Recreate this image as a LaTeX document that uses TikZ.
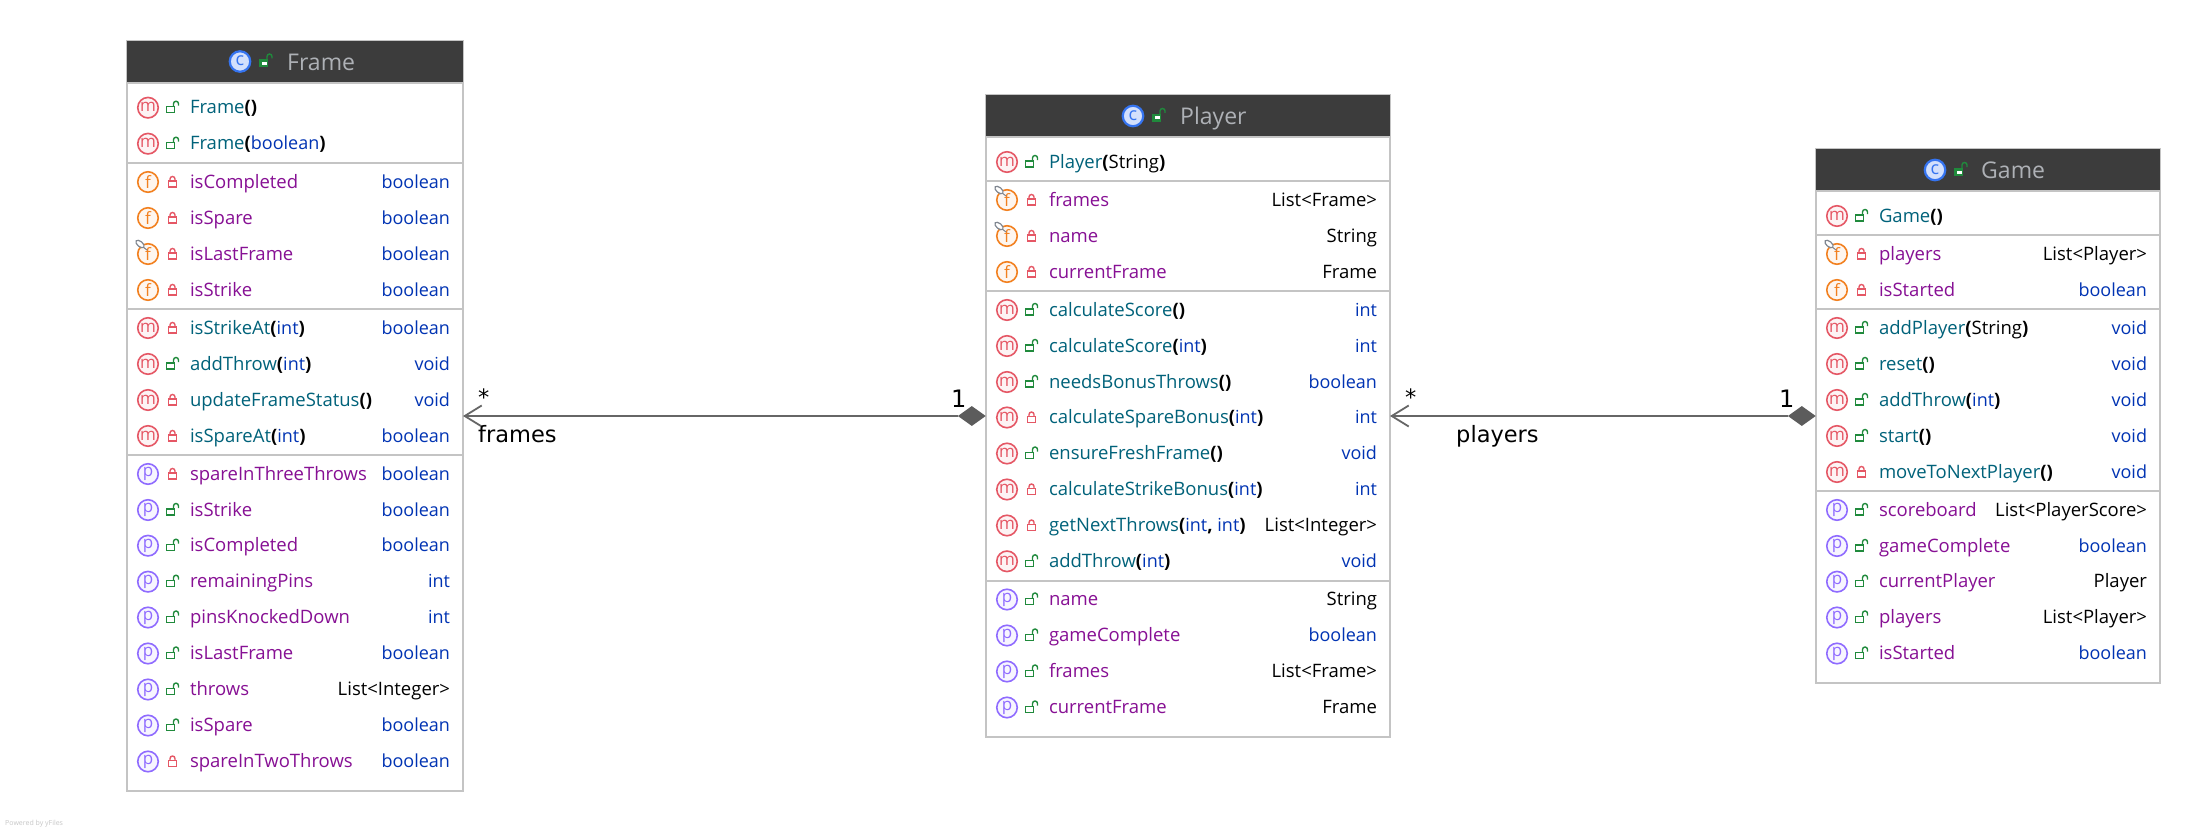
\documentclass[tikz,border=0pt]{standalone}
\usepackage{fontspec}
\setmainfont{Open Sans}
\newfontfamily\edgefont{DejaVu Sans}
\usetikzlibrary{arrows.meta,shapes.geometric}
\definecolor{hdr}{HTML}{3C3C3C}
\definecolor{hdrtxt}{HTML}{AEB1B6}
\definecolor{bord}{HTML}{C4C4C4}
\definecolor{nmteal}{HTML}{00627A}
\definecolor{nmpurple}{HTML}{871094}
\definecolor{tyblue}{HTML}{0033B3}
\definecolor{icm}{HTML}{E55765}
\definecolor{icf}{HTML}{F2801F}
\definecolor{icp}{HTML}{8F6BFF}
\definecolor{icc}{HTML}{3574F0}
\definecolor{lockg}{HTML}{208A3C}
\definecolor{lockr}{HTML}{E55765}
\definecolor{edgec}{HTML}{666666}
\definecolor{pinc}{HTML}{7F8690}
\newcounter{rowc}
\tikzset{
  classbox/.style={draw=bord,line width=2.5pt,fill=white,anchor=north west,inner sep=0pt,outer sep=0pt},
  headbox/.style={fill=hdr,anchor=north west,inner sep=0pt,outer sep=0pt},
  sepline/.style={draw=bord,line width=2.5pt},
  rowtext/.style={inner sep=0pt,outer sep=0pt,font=\fontsize{18.5}{22}\selectfont},
  title/.style={inner sep=0pt,anchor=base west,text=hdrtxt,font=\fontsize{23}{26}\selectfont},
  kicon/.style={circle,draw=#1,line width=1.6pt,fill=#1!7,text=#1,minimum size=20.5pt,inner sep=0pt,font=\fontsize{17}{17}\selectfont},
  cicon/.style={circle,draw=icc,line width=2.2pt,fill=icc!22,text=icc,minimum size=20.5pt,inner sep=0pt,font=\fontsize{18}{18}\selectfont},
  assoc/.style={draw=edgec,line width=2.4pt,-{Straight Barb[length=17pt,width=21pt,line width=1.8pt]}},
  compo/.style={diamond,fill=edgec!90!black,inner sep=0pt,minimum width=28pt,minimum height=20pt,aspect=1.4},
  edgelab/.style={inner sep=0pt,anchor=base west,text=black,font=\edgefont\fontsize{22.5}{24}\selectfont}
}
% locks
\newcommand{\lockpub}[2]{%
  \draw[lockg,line width=1.4pt,fill=white] (#1-6,#2-1) rectangle (#1+2,#2+5);
  \draw[lockg,line width=1.4pt] (#1+1,#2-1) -- (#1+1,#2-4) arc[start angle=180,end angle=360,radius=2.5] -- (#1+6,#2-2);}
\newcommand{\lockpri}[2]{%
  \draw[lockr,line width=1.4pt,fill=white] (#1-4,#2-1) rectangle (#1+4,#2+5);
  \draw[lockr,line width=1.4pt] (#1-2.5,#2-1) -- (#1-2.5,#2-3) arc[start angle=180,end angle=360,radius=2.5] -- (#1+2.5,#2-1);}
\newcommand{\lockhead}[2]{%
  \fill[lockg] (#1-7,#2-2) rectangle (#1+2,#2+6);
  \fill[white] (#1-4.5,#2+.5) rectangle (#1+.5,#2+3.5);
  \draw[lockg,line width=1.4pt] (#1+1,#2-2) -- (#1+1,#2-5) arc[start angle=180,end angle=360,radius=2.5] -- (#1+6,#2-3);}
\newcommand{\pinmark}[2]{%
  \draw[pinc,line width=1pt] (#1-5,#2-7) -- (#1-1,#2-4);
  \draw[pinc,line width=1.2pt,fill=white,rotate around={-40:(#1-8,#2-10)}] (#1-8,#2-10) ellipse[x radius=5,y radius=2.6];}
% #1 left x, #2 right x, #3 y, #4 colour, #5 letter, #6 lock macro, #7 name, #8 type
\newcommand{\urow}[8]{%
  \stepcounter{rowc}%
  \pgfmathsetmacro{\xa}{#1+21}\pgfmathsetmacro{\xb}{#1+45.5}\pgfmathsetmacro{\xc}{#1+63}\pgfmathsetmacro{\xd}{#2-13}\pgfmathsetmacro{\yb}{#3+6}%
  \node[kicon=#4,name=ic\arabic{rowc}] at (\xa,#3) {\raisebox{1pt}{#5}};
  #6{\xb}{#3}
  \node[rowtext,anchor=base west,name=nm\arabic{rowc}] at (\xc,\yb) {#7};
  \node[rowtext,anchor=base east,name=ty\arabic{rowc}] at (\xd,\yb) {#8};
}
\newcommand{\nm}[1]{\textcolor{nmteal}{#1}}
\newcommand{\fn}[1]{\textcolor{nmpurple}{#1}}
\newcommand{\ty}[1]{{\fontsize{18}{22}\selectfont\textcolor{tyblue}{#1}}}
\newcommand{\pb}[1]{\textbf{#1}}
\newcommand{\mrow}[6]{\urow{#1}{#2}{#3}{icm}{m}{#4}{#5}{#6}}
\newcommand{\frow}[6]{\urow{#1}{#2}{#3}{icf}{f}{#4}{#5}{#6}}
\newcommand{\prow}[6]{\urow{#1}{#2}{#3}{icp}{p}{#4}{#5}{#6}}
\begin{document}
\begin{tikzpicture}[x=1pt,y=-1pt]
\useasboundingbox (0,0) rectangle (2202,832);
\fill[white] (0,0) rectangle (2202,832);
% ---------- Frame
\def\L{127}\def\R{463}
\node[classbox,minimum width=336pt,minimum height=750pt] (frame) at (\L,41) {};
\node[headbox,minimum width=336pt,minimum height=41pt] (framehead) at (\L,41) {};
\draw[sepline] (\L,83) -- (\R,83);
\node[cicon] (frameC) at (240,61.5) {\raisebox{1pt}{c}};
\lockhead{266}{61.5}
\node[title] (frameT) at (287,70.5) {Frame};
\mrow{\L}{\R}{107.7}{\lockpub}{\nm{Frame}\pb{()}}{}
\mrow{\L}{\R}{143.7}{\lockpub}{\nm{Frame}\pb{(}\ty{boolean}\pb{)}}{}
\draw[sepline] (\L,163) -- (\R,163);
\frow{\L}{\R}{182}{\lockpri}{\fn{isCompleted}}{\ty{boolean}}
\frow{\L}{\R}{218}{\lockpri}{\fn{isSpare}}{\ty{boolean}}
\frow{\L}{\R}{254}{\lockpri}{\fn{isLastFrame}}{\ty{boolean}}
\pinmark{148}{254}
\frow{\L}{\R}{290}{\lockpri}{\fn{isStrike}}{\ty{boolean}}
\draw[sepline] (\L,309) -- (\R,309);
\mrow{\L}{\R}{328}{\lockpri}{\nm{isStrikeAt}\pb{(}\ty{int}\pb{)}}{\ty{boolean}}
\mrow{\L}{\R}{364}{\lockpub}{\nm{addThrow}\pb{(}\ty{int}\pb{)}}{\ty{void}}
\mrow{\L}{\R}{400}{\lockpri}{\nm{updateFrameStatus}\pb{()}}{\ty{void}}
\mrow{\L}{\R}{436}{\lockpri}{\nm{isSpareAt}\pb{(}\ty{int}\pb{)}}{\ty{boolean}}
\draw[sepline] (\L,455) -- (\R,455);
\prow{\L}{\R}{474}{\lockpri}{\fn{spareInThreeThrows}}{\ty{boolean}}
\prow{\L}{\R}{510}{\lockpub}{\fn{isStrike}}{\ty{boolean}}
\prow{\L}{\R}{545.7}{\lockpub}{\fn{isCompleted}}{\ty{boolean}}
\prow{\L}{\R}{581.7}{\lockpub}{\fn{remainingPins}}{\ty{int}}
\prow{\L}{\R}{617.5}{\lockpub}{\fn{pinsKnockedDown}}{\ty{int}}
\prow{\L}{\R}{653.5}{\lockpub}{\fn{isLastFrame}}{\ty{boolean}}
\prow{\L}{\R}{689.5}{\lockpub}{\fn{throws}}{List<Integer>}
\prow{\L}{\R}{725.5}{\lockpub}{\fn{isSpare}}{\ty{boolean}}
\prow{\L}{\R}{761.5}{\lockpri}{\fn{spareInTwoThrows}}{\ty{boolean}}
% ---------- Player
\def\L{986}\def\R{1390}
\node[classbox,minimum width=404pt,minimum height=642pt] (player) at (\L,95) {};
\node[headbox,minimum width=404pt,minimum height=41pt] (playerhead) at (\L,95) {};
\draw[sepline] (\L,137) -- (\R,137);
\node[cicon] (playerC) at (1133,116) {\raisebox{1pt}{c}};
\lockhead{1159}{116}
\node[title] (playerT) at (1180,124.5) {Player};
\mrow{\L}{\R}{162}{\lockpub}{\nm{Player}\pb{(}String\pb{)}}{}
\draw[sepline] (\L,181) -- (\R,181);
\frow{\L}{\R}{200}{\lockpri}{\fn{frames}}{List<Frame>}
\pinmark{1007}{200}
\frow{\L}{\R}{236}{\lockpri}{\fn{name}}{String}
\pinmark{1007}{236}
\frow{\L}{\R}{272}{\lockpri}{\fn{currentFrame}}{Frame}
\draw[sepline] (\L,291) -- (\R,291);
\mrow{\L}{\R}{310}{\lockpub}{\nm{calculateScore}\pb{()}}{\ty{int}}
\mrow{\L}{\R}{346}{\lockpub}{\nm{calculateScore}\pb{(}\ty{int}\pb{)}}{\ty{int}}
\mrow{\L}{\R}{382}{\lockpub}{\nm{needsBonusThrows}\pb{()}}{\ty{boolean}}
\mrow{\L}{\R}{417.5}{\lockpri}{\nm{calculateSpareBonus}\pb{(}\ty{int}\pb{)}}{\ty{int}}
\mrow{\L}{\R}{453.5}{\lockpub}{\nm{ensureFreshFrame}\pb{()}}{\ty{void}}
\mrow{\L}{\R}{489.5}{\lockpri}{\nm{calculateStrikeBonus}\pb{(}\ty{int}\pb{)}}{\ty{int}}
\mrow{\L}{\R}{525.5}{\lockpri}{\nm{getNextThrows}\pb{(}\ty{int}\pb{,} \ty{int}\pb{)}}{List<Integer>}
\mrow{\L}{\R}{561.3}{\lockpub}{\nm{addThrow}\pb{(}\ty{int}\pb{)}}{\ty{void}}
\draw[sepline] (\L,581) -- (\R,581);
\prow{\L}{\R}{599.5}{\lockpub}{\fn{name}}{String}
\prow{\L}{\R}{635.5}{\lockpub}{\fn{gameComplete}}{\ty{boolean}}
\prow{\L}{\R}{671.5}{\lockpub}{\fn{frames}}{List<Frame>}
\prow{\L}{\R}{707.5}{\lockpub}{\fn{currentFrame}}{Frame}
% ---------- Game
\def\L{1816}\def\R{2160}
\node[classbox,minimum width=344pt,minimum height=534pt] (game) at (\L,149) {};
\node[headbox,minimum width=344pt,minimum height=41pt] (gamehead) at (\L,149) {};
\draw[sepline] (\L,191) -- (\R,191);
\node[cicon] (gameC) at (1935,170) {\raisebox{1pt}{c}};
\lockhead{1961}{170}
\node[title] (gameT) at (1981,178.5) {Game};
\mrow{\L}{\R}{216}{\lockpub}{\nm{Game}\pb{()}}{}
\draw[sepline] (\L,235) -- (\R,235);
\frow{\L}{\R}{254}{\lockpri}{\fn{players}}{List<Player>}
\pinmark{1837}{254}
\frow{\L}{\R}{290}{\lockpri}{\fn{isStarted}}{\ty{boolean}}
\draw[sepline] (\L,309) -- (\R,309);
\mrow{\L}{\R}{328}{\lockpub}{\nm{addPlayer}\pb{(}String\pb{)}}{\ty{void}}
\mrow{\L}{\R}{364}{\lockpub}{\nm{reset}\pb{()}}{\ty{void}}
\mrow{\L}{\R}{400}{\lockpub}{\nm{addThrow}\pb{(}\ty{int}\pb{)}}{\ty{void}}
\mrow{\L}{\R}{436}{\lockpub}{\nm{start}\pb{()}}{\ty{void}}
\mrow{\L}{\R}{472}{\lockpri}{\nm{moveToNextPlayer}\pb{()}}{\ty{void}}
\draw[sepline] (\L,491) -- (\R,491);
\prow{\L}{\R}{510}{\lockpub}{\fn{scoreboard}}{List<PlayerScore>}
\prow{\L}{\R}{546}{\lockpub}{\fn{gameComplete}}{\ty{boolean}}
\prow{\L}{\R}{581.7}{\lockpub}{\fn{currentPlayer}}{Player}
\prow{\L}{\R}{617.5}{\lockpub}{\fn{players}}{List<Player>}
\prow{\L}{\R}{653.5}{\lockpub}{\fn{isStarted}}{\ty{boolean}}
% ---------- Associations
\node[compo,anchor=east] (d1) at (986,416) {};
\node[compo,anchor=east] (d2) at (1816,416) {};
\draw[assoc] (d1.west) -- (frame.east |- d1.west);
\draw[assoc] (d2.west) -- (player.east |- d2.west);
\node[edgelab] (s1) at (478,405) {*};
\node[edgelab,font=\edgefont\fontsize{24}{26}\selectfont] (o1) at (951,407) {1};
\node[edgelab] (l1) at (478,442) {frames};
\node[edgelab] (s2) at (1405,405) {*};
\node[edgelab,font=\edgefont\fontsize{24}{26}\selectfont] (o2) at (1779,407) {1};
\node[edgelab] (l2) at (1456,442) {players};
\node[inner sep=0pt,anchor=base west,text=black!22,font=\fontsize{7}{8}\selectfont] (yf) at (5,825) {Powered by yFiles};
\end{tikzpicture}
\end{document}
